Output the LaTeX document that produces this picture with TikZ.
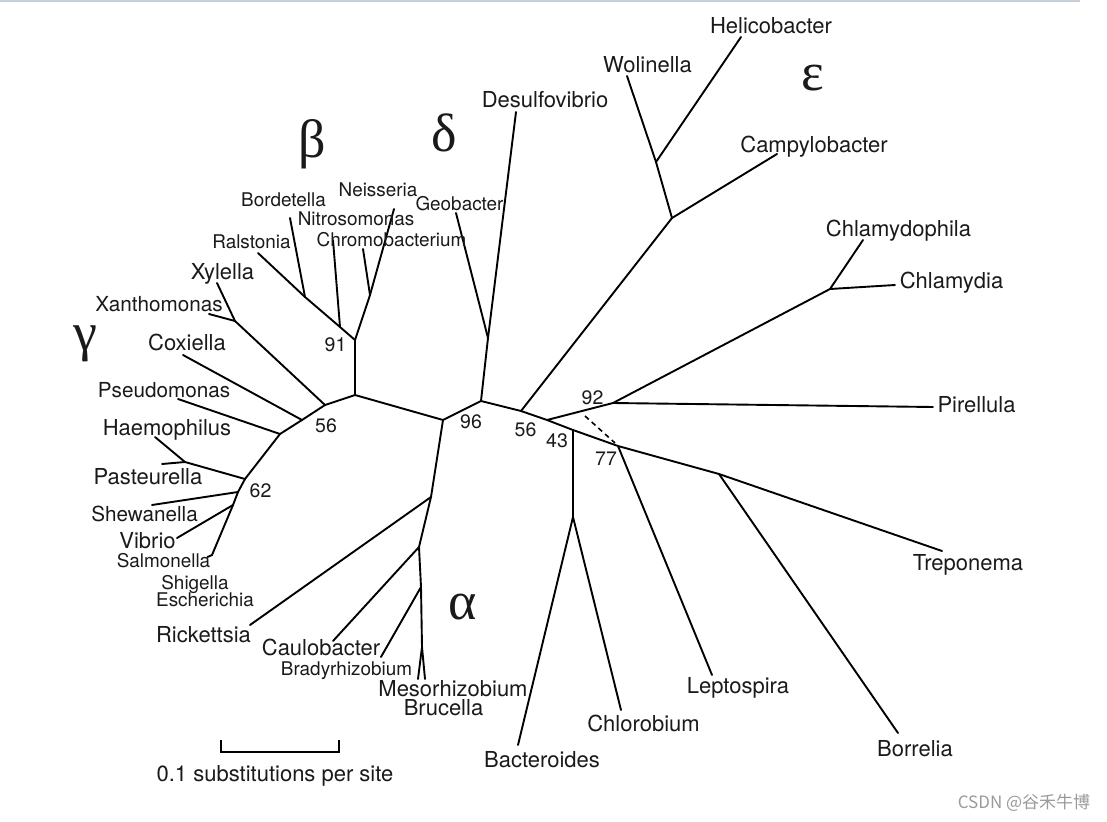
\documentclass[tikz,border=0pt]{standalone}
\usepackage{fontspec}
\setmainfont{TeX Gyre Heros}
\newfontfamily\greekfont{Liberation Serif}
\newfontfamily\cjkfont{Noto Sans CJK SC}
\usetikzlibrary{positioning}
\definecolor{labelgray}{HTML}{1A1A1A}
\definecolor{rulegray}{HTML}{C5CED9}
\definecolor{markgray}{HTML}{9A9A9A}

\begin{document}
\begin{tikzpicture}[
      x=1pt, y=-1pt,
      taxon/.style={
         inner sep=0pt,
         text=labelgray,
         text height=15.8pt,
         text depth=0pt,
         font=\fontsize{22}{24}\selectfont
      },
      mid taxon/.style={
         taxon,
         text height=14.9pt,
         font=\fontsize{20.7}{22}\selectfont
      },
      small taxon/.style={
         taxon,
         text height=13.5pt,
         font=\fontsize{18.9}{20}\selectfont
      },
      support/.style={
         taxon,
         text height=14pt,
         font=\fontsize{19.5}{21}\selectfont
      },
      clade/.style={
         inner sep=0pt,
         text=labelgray,
         font=\greekfont\fontsize{54}{58}\selectfont
      },
      point/.style={coordinate},
      branch/.style={line width=1.9pt, line cap=round, line join=round},
      alt branch/.style={line width=1.6pt, dashed, dash pattern=on 5pt off 4pt},
    ]
    \useasboundingbox (0,0) rectangle (1107,821);
    \draw[rulegray, line width=2pt] (0,1) -- (1080,1);

    % inner nodes of the tree
    \node (n96)     [point] at (481,401) {};
    \node (nleft)   [point] at (443,420) {};
    \node (nbg)     [point] at (355,395) {};
    \node (n91)     [point] at (355,340) {};
    \node (nnitro)  [point] at (340,327) {};
    \node (nborde)  [point] at (305,297) {};
    \node (nchromo) [point] at (370,295) {};
    \node (n56g)    [point] at (325,405) {};
    \node (nxantho) [point] at (235,321) {};
    \node (ncoxi)   [point] at (302,420) {};
    \node (npseudo) [point] at (280,434) {};
    \node (n62)     [point] at (245,479) {};
    \node (nhaemo)  [point] at (185,462) {};
    \node (nshew)   [point] at (238,492) {};
    \node (nvib)    [point] at (233,505) {};
    \node (nalpha)  [point] at (431,497) {};
    \node (ncaulo)  [point] at (419,547) {};
    \node (nbrady)  [point] at (421,587) {};
    \node (nmeso)   [point] at (422,647) {};
    \node (ngeo)    [point] at (488,338) {};
    \node (n56)     [point] at (521,411) {};
    \node (neps)    [point] at (672,218) {};
    \node (nwol)    [point] at (656,162) {};
    \node (n92a)    [point] at (547,420) {};
    \node (n92)     [point] at (613,403) {};
    \node (nchlam)  [point] at (830,289) {};
    \node (n43)     [point] at (573,430) {};
    \node (nbact)   [point] at (573,517) {};
    \node (n77)     [point] at (618,446) {};
    \node (ntrep)   [point] at (719,474) {};

    % branch tips
    \node (tHel)     [point] at (741,37) {};
    \node (tWol)     [point] at (627,76) {};
    \node (tCamp)    [point] at (777,154) {};
    \node (tDesulfo) [point] at (516,112) {};
    \node (tGeo)     [point] at (456,213) {};
    \node (tNeis)    [point] at (394,209) {};
    \node (tChromo)  [point] at (363,249) {};
    \node (tNitro)   [point] at (333,240) {};
    \node (tBorde)   [point] at (290,218) {};
    \node (tRal)     [point] at (258,253) {};
    \node (tXyl)     [point] at (217,283) {};
    \node (tXan)     [point] at (209,314) {};
    \node (tCox)     [point] at (183,355) {};
    \node (tPseudo)  [point] at (178,399) {};
    \node (tHaemo)   [point] at (155,437) {};
    \node (tPast)    [point] at (162,464) {};
    \node (tShew)    [point] at (152,505) {};
    \node (tVib)     [point] at (177,538) {};
    \node (tSalm)    [point] at (212,555) {};
    \node (tSalmend) [point] at (207.5,557) {};
    \node (tRick)    [point] at (250,625) {};
    \node (tCaulo)   [point] at (333,641) {};
    \node (tBrady)   [point] at (381,657) {};
    \node (tMeso)    [point] at (418,679) {};
    \node (tBruc)    [point] at (425,679) {};
    \node (tBact)    [point] at (518,745) {};
    \node (tChlor)   [point] at (621,710) {};
    \node (tLepto)   [point] at (712,675) {};
    \node (tBorr)    [point] at (898,733) {};
    \node (tTrep)    [point] at (942,551) {};
    \node (tPir)     [point] at (933,407) {};
    \node (tChla)    [point] at (895,285) {};
    \node (tChlo)    [point] at (863,240) {};
    \node (alt-a)    [point] at (585,416) {};
    \node (alt-b)    [point] at (615,443) {};

    % beta and gamma
    \draw[branch] (n96) -- (nleft) -- (nbg) -- (n91) -- (nnitro) -- (nborde) -- (tRal);
    \draw[branch] (nborde) -- (tBorde);
    \draw[branch] (nnitro) -- (tNitro);
    \draw[branch] (n91) -- (nchromo) -- (tNeis);
    \draw[branch] (nchromo) -- (tChromo);
    \draw[branch] (nbg) -- (n56g) -- (nxantho) -- (tXyl);
    \draw[branch] (nxantho) -- (tXan);
    \draw[branch] (n56g) -- (ncoxi) -- (tCox);
    \draw[branch] (ncoxi) -- (npseudo) -- (tPseudo);
    \draw[branch] (npseudo) -- (n62) -- (nhaemo) -- (tHaemo);
    \draw[branch] (nhaemo) -- (tPast);
    \draw[branch] (n62) -- (nshew) -- (tShew);
    \draw[branch] (nshew) -- (nvib) -- (tVib);
    \draw[branch] (nvib) -- (tSalm) -- (tSalmend);
    % alpha
    \draw[branch] (nleft) -- (nalpha) -- (tRick);
    \draw[branch] (nalpha) -- (ncaulo) -- (tCaulo);
    \draw[branch] (ncaulo) -- (nbrady) -- (tBrady);
    \draw[branch] (nbrady) -- (nmeso) -- (tMeso);
    \draw[branch] (nmeso) -- (tBruc);
    % delta
    \draw[branch] (n96) -- (ngeo) -- (tGeo);
    \draw[branch] (ngeo) -- (tDesulfo);
    % epsilon
    \draw[branch] (n96) -- (n56) -- (neps) -- (tCamp);
    \draw[branch] (neps) -- (nwol) -- (tWol);
    \draw[branch] (nwol) -- (tHel);
    % the rest
    \draw[branch] (n56) -- (n92a) -- (n92) -- (tPir);
    \draw[branch] (n92) -- (nchlam) -- (tChlo);
    \draw[branch] (nchlam) -- (tChla);
    \draw[branch] (n92a) -- (n43) -- (nbact) -- (tBact);
    \draw[branch] (nbact) -- (tChlor);
    \draw[branch] (n43) -- (n77) -- (tLepto);
    \draw[branch] (n77) -- (ntrep) -- (tTrep);
    \draw[branch] (ntrep) -- (tBorr);
    \draw[alt branch] (alt-a) -- (alt-b);

    % taxa
    \node (Helicobacter)    [taxon] at (771,25.5) {Helicobacter};
    \node (Wolinella)       [taxon] at (647.5,65) {Wolinella};
    \node (Desulfovibrio)   [taxon] at (545,100) {Desulfovibrio};
    \node (Campylobacter)   [taxon] at (814,144.5) {Campylobacter};
    \node (Chlamydophila)   [taxon] at (898.5,228.5) {Chlamydophila};
    \node (Chlamydia)       [taxon] at (951.5,280.5) {Chlamydia};
    \node (Pirellula)       [taxon] at (976.5,404.5) {Pirellula};
    \node (Treponema)       [taxon] at (968,563) {Treponema};
    \node (Borrelia)        [taxon] at (915,748.5) {Borrelia};
    \node (Leptospira)      [taxon] at (738,686) {Leptospira};
    \node (Chlorobium)      [taxon] at (643.5,724) {Chlorobium};
    \node (Bacteroides)     [taxon] at (542,759.5) {Bacteroides};
    \node (Mesorhizobium)   [taxon] at (453,689) {Mesorhizobium};
    \node (Brucella)        [taxon] at (443.5,708) {Brucella};
    \node (Bradyrhizobium)  [small taxon] at (346.5,669) {Bradyrhizobium};
    \node (Caulobacter)     [taxon] at (321,648) {Caulobacter};
    \node (Rickettsia)      [taxon] at (203.5,635) {Rickettsia};
    \node (Escherichia)     [small taxon] at (205,600) {Escherichia};
    \node (Shigella)        [small taxon] at (195,583) {Shigella};
    \node (Salmonella)      [small taxon] at (163.5,561) {Salmonella};
    \node (Vibrio)          [taxon] at (147.5,541) {Vibrio};
    \node (Shewanella)      [mid taxon] at (144.5,514.5) {Shewanella};
    \node (Pasteurella)     [taxon] at (148,477) {Pasteurella};
    \node (Haemophilus)     [taxon] at (167,428) {Haemophilus};
    \node (Pseudomonas)     [mid taxon] at (164,390) {Pseudomonas};
    \node (Coxiella)        [taxon] at (187,343) {Coxiella};
    \node (Xanthomonas)     [mid taxon] at (159,304) {Xanthomonas};
    \node (Xylella)         [taxon] at (222.5,272) {Xylella};
    \node (Ralstonia)       [small taxon] at (251.5,241.5) {Ralstonia};
    \node (Bordetella)      [small taxon] at (283.5,200) {Bordetella};
    \node (Nitrosomonas)    [small taxon] at (356,219) {Nitrosomonas};
    \node (Neisseria)       [small taxon] at (378,189.5) {Neisseria};
    \node (Chromobacterium) [small taxon] at (391.5,240) {Chromobacterium};
    \node (Geobacter)       [small taxon] at (459.5,204) {Geobacter};

    % bootstrap values
    \node (s91)  [support] at (335.5,344.5) {91};
    \node (s56g) [support] at (326,425) {56};
    \node (s62)  [support] at (260.5,490) {62};
    \node (s96)  [support] at (471,421) {96};
    \node (s56)  [support] at (525.5,429) {56};
    \node (s43)  [support] at (557,440) {43};
    \node (s92)  [support] at (592.5,397) {92};
    \node (s77)  [support] at (606,458) {77};

    % groups
    \node (alpha)   [clade] at (463,607.5) {α};
    \node (beta)    [clade] at (312,144) {β};
    \node (gamma)   [clade] at (85,344) {γ};
    \node (delta)   [clade] at (444.5,132.5) {δ};
    \node (epsilon) [clade] at (812.5,78) {ε};

    % scale bar
    \node (sb-a) [point] at (221,740) {};
    \node (sb-b) [point] at (221,752) {};
    \node (sb-c) [point] at (339,752) {};
    \node (sb-d) [point] at (339,740) {};
    \draw[line width=2.4pt] (sb-a) -- (sb-b) -- (sb-c) -- (sb-d);
    \node (sb-text) [taxon] at (275,773.5) {0.1 substitutions per site};

    \node (csdn) [inner sep=0pt, text=markgray, font=\cjkfont\fontsize{17}{19}\selectfont] at (1024,803) {CSDN @谷禾牛博};
\end{tikzpicture}
\end{document}
